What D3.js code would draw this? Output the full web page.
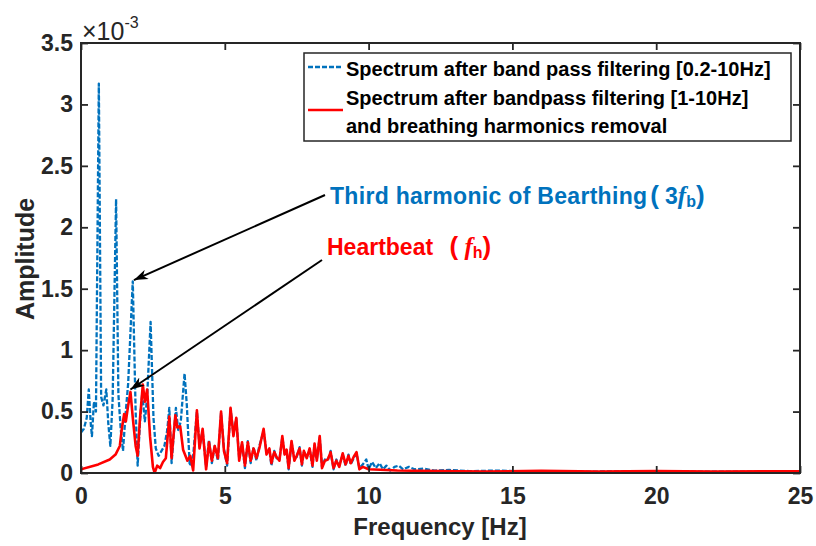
<!DOCTYPE html>
<html>
<head>
<meta charset="utf-8">
<script src="https://cdn.jsdelivr.net/npm/d3@7"></script>
<style>
  body { margin: 0; background: #fff; }
  svg { display: block; font-family: "Liberation Sans", Arial, sans-serif; }
</style>
</head>
<body>
<svg id="chart" width="816" height="546"></svg>
<script>
// Spectrum after band pass filtering [0.2-10Hz] (amplitude in units of 1e-3)
const blueFreq = [0.00,0.10,0.20,0.27,0.34,0.38,0.45,0.52,0.62,0.70,0.78,0.88,0.95,1.02,1.10,1.22,1.30,1.38,1.46,1.55,1.64,1.80,1.90,1.97,2.06,2.13,2.22,2.30,2.42,2.52,2.60,2.70,2.80,2.90,3.00,3.07,3.15,3.22,3.30,3.38,3.47,3.60,3.68,3.78,3.90,4.03,4.12,4.23,4.35,4.45,4.55,4.65,4.76,4.87,4.97,5.08,5.20,5.30,5.40,5.50,5.60,5.70,5.80,5.90,6.00,6.10,6.20,6.35,6.45,6.55,6.62,6.72,6.80,6.90,7.00,7.08,7.15,7.22,7.32,7.42,7.50,7.60,7.68,7.75,7.85,7.95,8.05,8.12,8.20,8.30,8.38,8.48,8.58,8.68,8.78,8.88,8.98,9.10,9.20,9.30,9.38,9.48,9.58,9.68,9.80,9.92,10.00,10.12,10.25,10.38,10.50,10.62,10.75,10.90,11.05,11.20,11.40,11.60,11.90,12.30,12.80,13.50,14.50,15.50,16.50,17.50,18.50,19.50,20.50,21.50,22.50,23.50,25.00];
const blueAmp  = [0.33,0.36,0.45,0.68,0.40,0.30,0.58,0.50,3.17,0.62,0.55,0.68,0.40,0.22,0.60,2.23,0.64,0.36,0.18,0.48,0.73,1.56,0.50,0.06,0.45,0.65,0.42,0.62,1.23,0.45,0.20,0.14,0.18,0.22,0.35,0.53,0.08,0.30,0.53,0.35,0.42,0.81,0.55,0.06,0.14,0.50,0.22,0.34,0.05,0.27,0.08,0.22,0.10,0.49,0.20,0.06,0.52,0.32,0.44,0.12,0.24,0.04,0.26,0.08,0.21,0.10,0.22,0.34,0.17,0.19,0.06,0.18,0.12,0.11,0.29,0.16,0.18,0.03,0.25,0.11,0.13,0.21,0.06,0.17,0.13,0.19,0.05,0.23,0.11,0.29,0.05,0.11,0.10,0.18,0.03,0.11,0.06,0.15,0.06,0.15,0.07,0.12,0.16,0.04,0.07,0.11,0.03,0.09,0.04,0.08,0.03,0.06,0.02,0.05,0.06,0.03,0.05,0.03,0.035,0.02,0.025,0.015,0.02,0.012,0.015,0.01,0.014,0.01,0.013,0.01,0.012,0.01,0.012];

// Spectrum after bandpass filtering [1-10Hz] and breathing harmonics removal
const redFreq = [0.00,0.60,1.00,1.20,1.35,1.42,1.50,1.56,1.64,1.72,1.80,1.90,1.97,2.05,2.15,2.22,2.30,2.40,2.50,2.56,2.65,2.75,2.85,2.95,3.00,3.07,3.15,3.28,3.35,3.45,3.55,3.70,3.80,3.90,4.03,4.12,4.23,4.35,4.45,4.55,4.65,4.76,4.87,4.97,5.08,5.20,5.30,5.40,5.50,5.60,5.70,5.80,5.90,6.00,6.10,6.20,6.35,6.45,6.55,6.62,6.72,6.80,6.90,7.00,7.08,7.15,7.22,7.32,7.42,7.50,7.60,7.68,7.75,7.85,7.95,8.05,8.12,8.20,8.30,8.38,8.48,8.58,8.68,8.78,8.88,8.98,9.10,9.20,9.30,9.38,9.48,9.58,9.68,9.80,10.00,11.00,12.50,14.00,16.00,18.00,20.00,22.00,25.00];
const redAmp  = [0.03,0.07,0.11,0.15,0.22,0.36,0.48,0.42,0.55,0.66,0.45,0.22,0.14,0.44,0.72,0.58,0.68,0.30,0.05,0.00,0.06,0.04,0.09,0.12,0.26,0.46,0.12,0.47,0.37,0.38,0.19,0.10,0.14,0.02,0.51,0.20,0.36,0.03,0.25,0.10,0.22,0.12,0.50,0.18,0.08,0.53,0.30,0.45,0.10,0.25,0.06,0.25,0.10,0.20,0.12,0.20,0.36,0.15,0.20,0.08,0.17,0.13,0.10,0.30,0.15,0.19,0.04,0.26,0.10,0.14,0.20,0.07,0.18,0.12,0.20,0.06,0.24,0.10,0.30,0.04,0.10,0.11,0.17,0.04,0.10,0.05,0.16,0.07,0.14,0.08,0.13,0.17,0.03,0.05,0.03,0.02,0.015,0.012,0.018,0.012,0.016,0.012,0.014];

const xTicks = [0, 5, 10, 15, 20, 25];
const yTicks = [0, 0.5, 1, 1.5, 2, 2.5, 3, 3.5];
const legendLabels = [
  ["Spectrum after band pass filtering [0.2-10Hz]"],
  ["Spectrum after bandpass filtering [1-10Hz]", "and breathing harmonics removal"]
];

const BLUE = "#0072BD", RED = "#FF0000", AX = "#262626";
const FONT = "'Liberation Sans', Arial, sans-serif";

const svg = d3.select("#chart");
const x = d3.scaleLinear().domain([0, 25]).range([81, 800]);
const y = d3.scaleLinear().domain([0, 3.5]).range([473, 43]);

svg.append("rect").attr("width", 816).attr("height", 546).attr("fill", "#fff");

svg.append("clipPath").attr("id", "plotClip")
  .append("rect").attr("x", 81).attr("y", 43).attr("width", 719).attr("height", 430);

const line = d3.line().x(d => x(d[0])).y(d => y(d[1]));
const blueData = blueFreq.map((f, i) => [f, blueAmp[i]]);
const redData = redFreq.map((f, i) => [f, redAmp[i]]);

const plot = svg.append("g").attr("clip-path", "url(#plotClip)");
plot.append("path").datum(blueData).attr("d", line)
  .attr("fill", "none").attr("stroke", BLUE).attr("stroke-width", 2.3)
  .attr("stroke-dasharray", "5,2").attr("stroke-linejoin", "round");
plot.append("path").datum(redData).attr("d", line)
  .attr("fill", "none").attr("stroke", RED).attr("stroke-width", 2.6)
  .attr("stroke-linejoin", "round");

// axes with inward ticks on all four sides
const fmt = d3.format("~g");
function styleAxis(g) {
  g.select(".domain").remove();
  g.selectAll(".tick line").attr("stroke", AX).attr("stroke-width", 1.8);
  g.selectAll(".tick text").attr("fill", AX).attr("font-family", FONT)
    .attr("font-size", 23).attr("font-weight", "bold");
}
svg.append("g").attr("transform", "translate(0,473)")
  .call(d3.axisBottom(x).tickValues(xTicks).tickFormat(fmt).tickSizeInner(-7).tickSizeOuter(0).tickPadding(15))
  .call(styleAxis);
svg.append("g").attr("transform", "translate(0,43)")
  .call(d3.axisTop(x).tickValues(xTicks).tickFormat("").tickSizeInner(-7).tickSizeOuter(0))
  .call(styleAxis);
svg.append("g").attr("transform", "translate(81,0)")
  .call(d3.axisLeft(y).tickValues(yTicks).tickFormat(fmt).tickSizeInner(-7).tickSizeOuter(0).tickPadding(8))
  .call(styleAxis);
svg.append("g").attr("transform", "translate(800,0)")
  .call(d3.axisRight(y).tickValues(yTicks).tickFormat("").tickSizeInner(-7).tickSizeOuter(0))
  .call(styleAxis);

svg.append("rect").attr("x", 81).attr("y", 43).attr("width", 719).attr("height", 430)
  .attr("fill", "none").attr("stroke", AX).attr("stroke-width", 2);

// exponent label
const expo = svg.append("text").attr("x", 82).attr("y", 40).attr("fill", AX)
  .attr("font-family", FONT).attr("font-size", 25);
expo.append("tspan").text("\u00D710");
expo.append("tspan").attr("font-size", 16).attr("dy", -12).text("-3");

// axis titles
svg.append("text").attr("x", 440).attr("y", 535).attr("text-anchor", "middle")
  .attr("fill", AX).attr("font-family", FONT).attr("font-size", 24).attr("font-weight", "bold")
  .text("Frequency [Hz]");
svg.append("text").attr("transform", "translate(34,259) rotate(-90)").attr("text-anchor", "middle")
  .attr("fill", AX).attr("font-family", FONT).attr("font-size", 25).attr("font-weight", "bold")
  .text("Amplitude");

// legend
const lg = svg.append("g");
lg.append("rect").attr("x", 304).attr("y", 53).attr("width", 487).attr("height", 88)
  .attr("fill", "#fff").attr("stroke", AX).attr("stroke-width", 1.5);
lg.append("line").attr("x1", 308).attr("x2", 343).attr("y1", 67).attr("y2", 67)
  .attr("stroke", BLUE).attr("stroke-width", 2.3).attr("stroke-dasharray", "5,2");
lg.append("line").attr("x1", 308).attr("x2", 343).attr("y1", 110).attr("y2", 110)
  .attr("stroke", RED).attr("stroke-width", 2.6);
const legendBaselines = [[76], [105, 133]];
legendLabels.forEach((rows, i) => {
  rows.forEach((t, j) => {
    lg.append("text").attr("x", 346).attr("y", legendBaselines[i][j])
      .attr("fill", "#000").attr("font-family", FONT).attr("font-size", 20).attr("font-weight", "bold")
      .text(t);
  });
});

// annotations
const defs = svg.append("defs");
defs.append("marker").attr("id", "ahead").attr("viewBox", "0 0 14 10")
  .attr("refX", 14).attr("refY", 5).attr("markerWidth", 14).attr("markerHeight", 10)
  .attr("markerUnits", "userSpaceOnUse").attr("orient", "auto")
  .append("path").attr("d", "M0,0 L14,5 L0,10 L4,5 Z").attr("fill", "#000");

svg.append("line").attr("x1", 325).attr("y1", 195).attr("x2", x(1.84)).attr("y2", y(1.57))
  .attr("stroke", "#000").attr("stroke-width", 2).attr("marker-end", "url(#ahead)");
svg.append("line").attr("x1", 322).attr("y1", 260).attr("x2", x(1.72)).attr("y2", y(0.68))
  .attr("stroke", "#000").attr("stroke-width", 2).attr("marker-end", "url(#ahead)");

const t1 = svg.append("text").attr("x", 330).attr("y", 204).attr("fill", BLUE)
  .attr("font-family", FONT).attr("font-size", 23).attr("font-weight", "bold");
t1.append("tspan").attr("letter-spacing", 0.3).text("Third harmonic of Bearthing");
t1.append("tspan").attr("font-size", 26).attr("dx", 3).text("(");
t1.append("tspan").attr("font-size", 23).attr("dx", 6).text("3");
t1.append("tspan").attr("font-size", 25).attr("font-style", "italic")
  .attr("font-family", "'Liberation Serif', serif").text("f");
t1.append("tspan").attr("font-size", 16).attr("dy", 3).text("b");
t1.append("tspan").attr("font-size", 26).attr("dy", -3).text(")");

const t2 = svg.append("text").attr("x", 327).attr("y", 255).attr("fill", RED)
  .attr("font-family", FONT).attr("font-size", 23).attr("font-weight", "bold");
t2.append("tspan").text("Heartbeat ");
t2.append("tspan").attr("font-size", 26).attr("dx", 10).text("(");
t2.append("tspan").attr("font-size", 25).attr("font-style", "italic")
  .attr("font-family", "'Liberation Serif', serif").text(" f");
t2.append("tspan").attr("font-size", 16).attr("dy", 3).text("h");
t2.append("tspan").attr("font-size", 26).attr("dy", -3).text(")");
</script>
</body>
</html>
